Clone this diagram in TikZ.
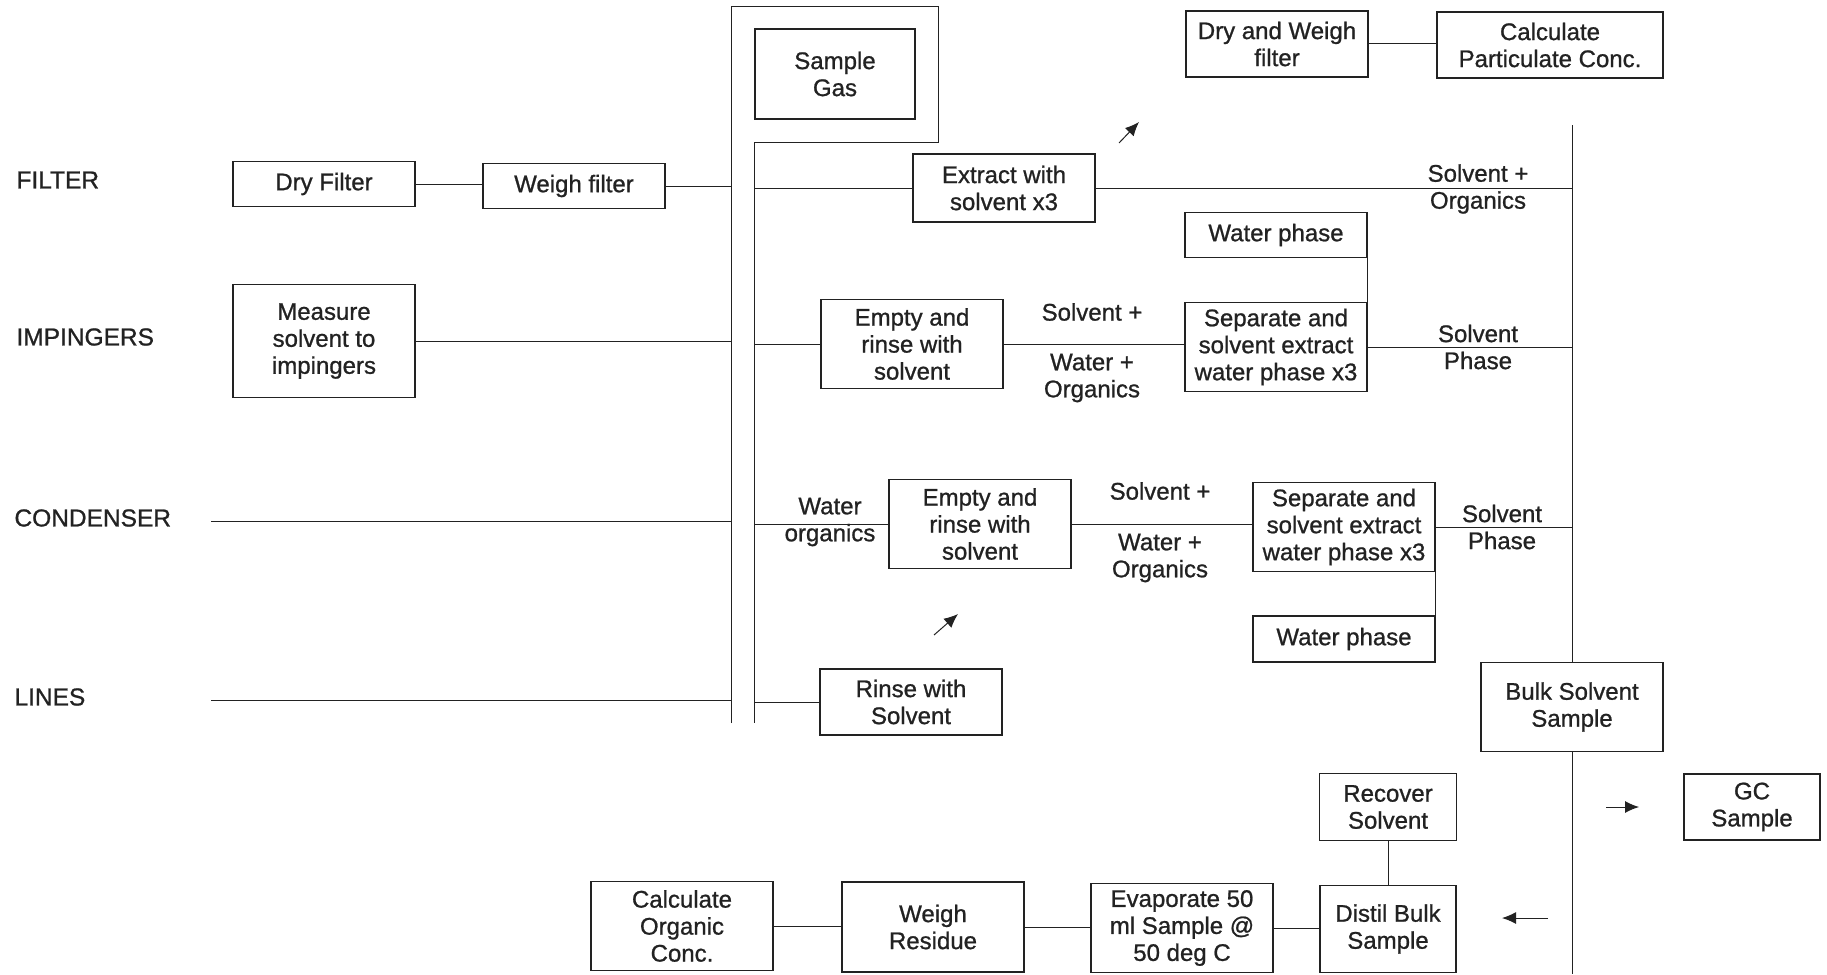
\documentclass[tikz,border=0pt]{standalone}
\usepackage{fontspec}
\setmainfont{Liberation Sans}[BoldFont=Liberation Sans,BoldFeatures={FakeBold=0.9}]
\usetikzlibrary{arrows.meta}
\definecolor{ink}{HTML}{222222}

\begin{document}
\begin{tikzpicture}[x=1pt,y=-1pt,>={Latex[length=14pt,width=12pt]},line width=1pt,color=ink,
    every node/.style={font=\fontsize{24}{27}\selectfont\bfseries,align=center},
    box/.style={draw,line width=1.2pt,inner sep=0pt,minimum width=182,minimum height=89},
    lbl/.style={anchor=west,inner sep=0pt,font=\fontsize{24.5}{27}\selectfont\bfseries}]
\fill[white](0,0)rectangle(1827,974);
\useasboundingbox(0,0)rectangle(1827,974);

% row labels
\node[lbl](filterlbl)at(16,180){FILTER};
\node[lbl](implbl)at(16,337){IMPINGERS};
\node[lbl](condlbl)at(14,518){CONDENSER};
\node[lbl](lineslbl)at(14,697){LINES};

% boxes
\node[box,minimum width=160,minimum height=90](gas)at(835,74){Sample\\Gas};
\node[box,minimum height=66](dryweigh)at(1277,44){Dry and Weigh\\filter};
\node[box,minimum width=226,minimum height=66](calcpart)at(1550,45){Calculate\\Particulate Conc.};
\node[box,minimum height=45](dryf)at(324,184){Dry Filter};
\node[box,minimum height=45](weighf)at(574,186){Weigh filter};
\node[box,minimum height=68](extract)at(1004,188){Extract with\\solvent x3};
\node[box,minimum height=45](water1)at(1276,235){Water phase};
\node[box](sep1)at(1276,347){Separate and\\solvent extract\\water phase x3};
\node[box,minimum height=113](measure)at(324,341){Measure\\solvent to\\impingers};
\node[box](empty1)at(912,344){Empty and\\rinse with\\solvent};
\node[box](empty2)at(980,524){Empty and\\rinse with\\solvent};
\node[box](sep2)at(1344,527){Separate and\\solvent extract\\water phase x3};
\node[box,minimum height=46](water2)at(1344,639){Water phase};
\node[box,minimum height=66](rinse)at(911,702){Rinse with\\Solvent};
\node[box](bulk)at(1572,707){Bulk Solvent\\Sample};
\node[box,minimum width=137,minimum height=67](recover)at(1388,807){Recover\\Solvent};
\node[box,minimum width=136,minimum height=87](distil)at(1388,929){Distil Bulk\\Sample};
\node[box,minimum width=136,minimum height=66](gc)at(1752,807){GC\\Sample};
\node[box](evap)at(1182,928){Evaporate 50\\ml Sample @\\50 deg C};
\node[box,minimum height=90](weighres)at(933,927){Weigh\\Residue};
\node[box](calcorg)at(682,926){Calculate\\Organic\\Conc.};

% flow labels
\node(solorg)at(1478,189){Solvent +\\Organics};
\node(solph1)at(1478,347){Solvent\\Phase};
\node(solplus1)at(1092,312){Solvent +};
\node(watorg1)at(1092,378){Water +\\Organics};
\node(watorg)at(830,522){Water\\organics};
\node(solplus2)at(1160,491){Solvent +};
\node(watorg2)at(1160,558){Water +\\Organics};
\node(solph2)at(1502,527){Solvent\\Phase};

% sampling train and bus lines
\coordinate(otop)at(731,7);
\coordinate(obot)at(731,723);
\coordinate(gtop)at(938,7);
\coordinate(gbend)at(938,142);
\coordinate(itop)at(754,142);
\coordinate(ibot)at(754,723);
\coordinate(rtop)at(1572,125);
\coordinate(rbot)at(1572,974);
\coordinate(cstart)at(211,521);
\coordinate(lstart)at(211,700);
\draw(obot)--(otop)--(gtop)--(gbend)--(itop)--(ibot);
\draw(rtop)--(bulk.north);
\draw(bulk.south)--(rbot);

\draw(dryf.east)--(dryf.east-|weighf.west);
\draw(weighf.east)--(weighf.east-|otop);
\draw(extract.west-|itop)--(extract.west);
\draw(extract.east)--(extract.east-|rtop);
\draw(dryweigh.east)--(dryweigh.east-|calcpart.west);
\draw(water1.south east)--(sep1.north east);
\draw(sep1.east)--(sep1.east-|rtop);
\draw(measure.east)--(measure.east-|otop);
\draw(empty1.west-|itop)--(empty1.west);
\draw(empty1.east)--(empty1.east-|sep1.west);
\draw(cstart)--(cstart-|otop);
\draw(empty2.west-|itop)--(empty2.west);
\draw(empty2.east)--(empty2.east-|sep2.west);
\draw(sep2.east)--(sep2.east-|rtop);
\draw(sep2.south east)--(water2.north east);
\draw(lstart)--(lstart-|otop);
\draw(rinse.west-|itop)--(rinse.west);
\draw(recover)--(distil);
\draw(evap.east)--(evap.east-|distil.west);
\draw(weighres.east)--(weighres.east-|evap.west);
\draw(calcorg.east)--(calcorg.east-|weighres.west);

% loose arrows
\coordinate(a1)at(1119,143);\coordinate(a1e)at(1139,122);
\coordinate(a2)at(934,635);\coordinate(a2e)at(958,614);
\coordinate(a3)at(1606,807);\coordinate(a3e)at(1639,807);
\coordinate(a4)at(1548,918);\coordinate(a4e)at(1502,918);
\draw[->](a1)--(a1e);
\draw[->](a2)--(a2e);
\draw[->](a3)--(a3e);
\draw[->](a4)--(a4e);
\end{tikzpicture}
\end{document}
